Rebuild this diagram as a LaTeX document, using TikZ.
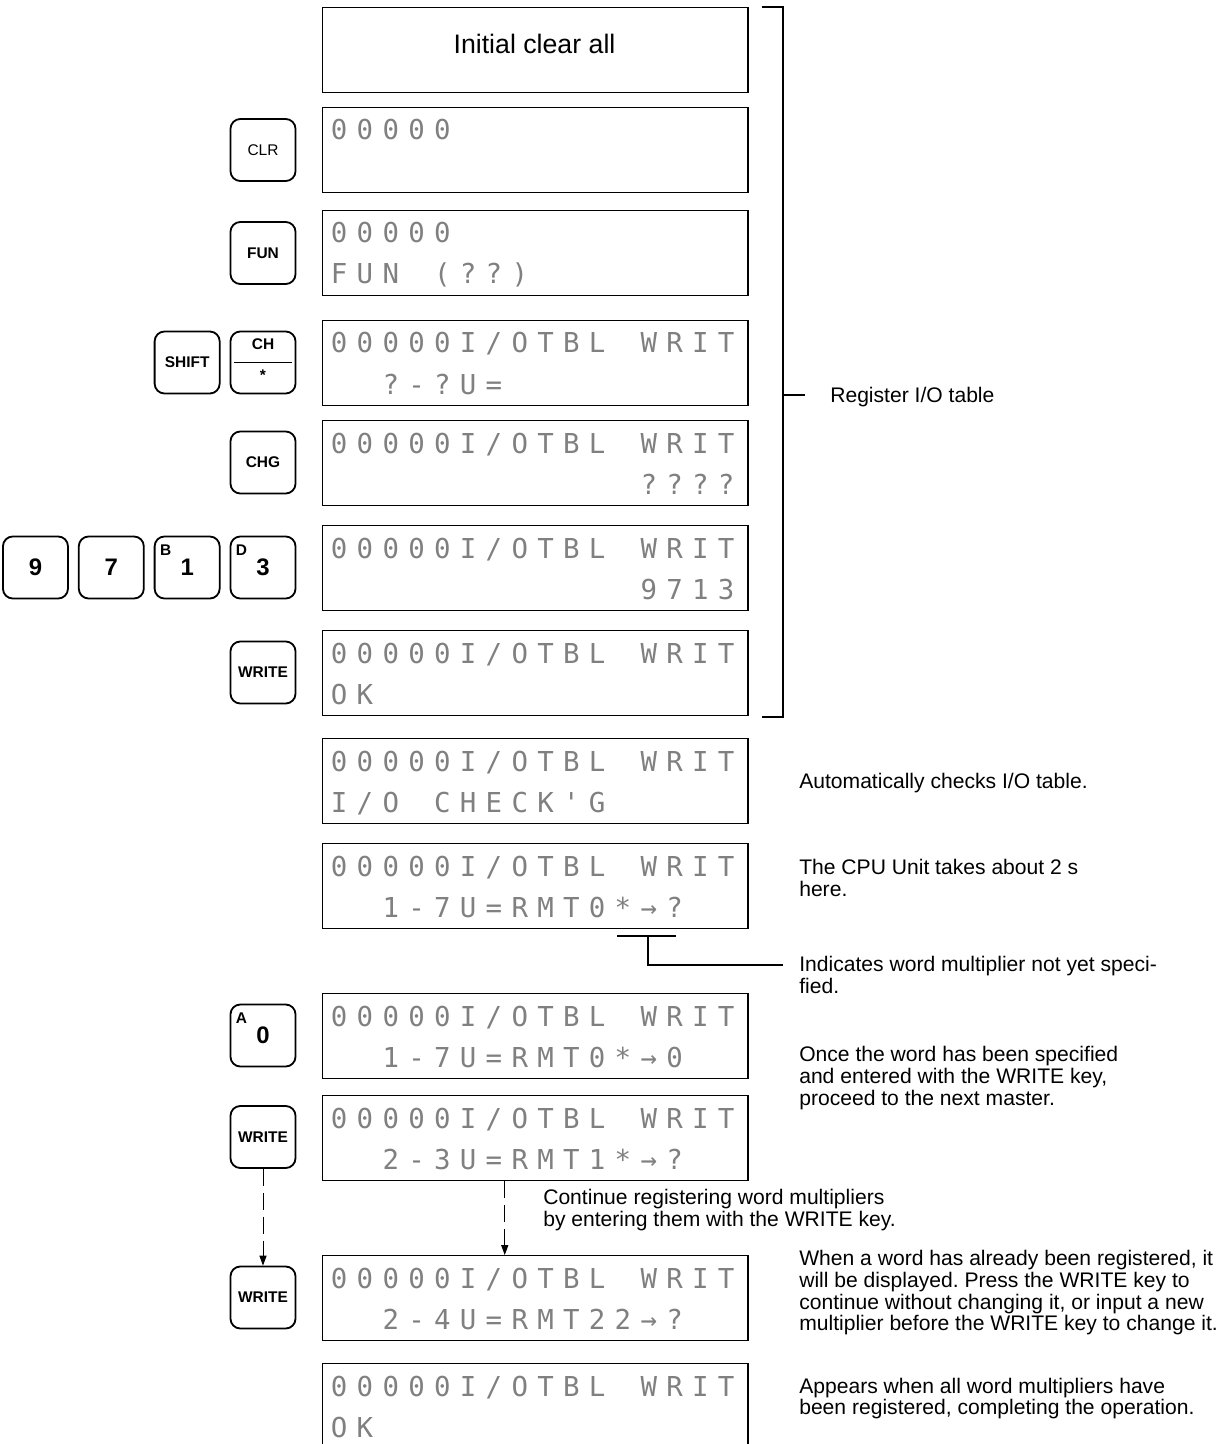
\documentclass[tikz,border=0pt]{standalone}
\usepackage{fontspec}
\setmainfont{Liberation Sans}
\newfontfamily\lcdfont{DejaVu Sans Mono}
\usepackage{tikz}
\usetikzlibrary{arrows.meta, positioning}
\definecolor{lcdgray}{gray}{0.5}
\frenchspacing

% one character cell of the display, '_' stands for a blank cell
\newlength\lcdpitch
\setlength\lcdpitch{18.35pt}
\def\lcdput#1{\ifx#1_\hspace*{\lcdpitch}\else\makebox[\lcdpitch][c]{#1}\fi}
\def\lcdloop#1{\ifx#1\relax\else\lcdput{#1}\expandafter\lcdloop\fi}
\newcommand\lcdrow[1]{\lcdloop#1\relax}

\begin{document}
\begin{tikzpicture}[x=0.025cm, y=-0.025cm,
  lcdbox/.style={draw, line width=1pt, minimum width=10.625cm, minimum height=2.125cm, inner sep=0pt, anchor=north west},
  lcdtxt/.style={anchor=base west, inner sep=0pt, text=lcdgray, font=\lcdfont\fontsize{19.5}{20}\selectfont},
  keycap/.style={draw, line width=1.3pt, rounded corners=7pt, minimum width=1.625cm, minimum height=1.55cm, inner sep=0pt, font=\fontsize{11}{12}\selectfont\bfseries},
  keydigit/.style={inner sep=0pt, font=\fontsize{17}{18}\selectfont\bfseries},
  keyletter/.style={inner sep=0pt, font=\fontsize{11}{12}\selectfont\bfseries},
  note/.style={anchor=base west, inner sep=0pt, align=left, font=\fontsize{15}{15.3}\selectfont},
  dasharrow/.style={line width=0.7pt, dash pattern=on 12pt off 5pt, -{Triangle[length=7pt, width=5pt]}}]

  \useasboundingbox (0,0) rectangle (1228,1444);

  % display frames
  \node[lcdbox] (d1) at (322,7) {};
  \node[font=\fontsize{19}{20}\selectfont] (init) at (534.5,44) {Initial clear all};
  \foreach \i/\t in {2/107, 3/210, 4/320, 5/420, 6/525, 7/630, 8/738, 9/843, 10/993, 11/1095, 12/1255, 13/1363}
    \node[lcdbox] (d\i) at (322,\t) {};

  % first display line
  \foreach \i/\t in {2/107, 3/210}
    \node[lcdtxt] (a\i) at (326,\t+33) {\lcdrow{00000}};
  \foreach \i/\t in {4/320, 5/420, 6/525, 7/630, 8/738, 9/843, 10/993, 11/1095, 12/1255, 13/1363}
    \node[lcdtxt] (a\i) at (326,\t+33) {\lcdrow{00000I/OTBL_WRIT}};

  % second display line
  \node[lcdtxt] (b3) at (326,210+74) {\lcdrow{FUN_(??)}};
  \node[lcdtxt] (b4) at (326,320+74) {\lcdrow{__?-?U=}};
  \node[lcdtxt] (b5) at (326,420+74) {\lcdrow{____________????}};
  \node[lcdtxt] (b6) at (326,525+74) {\lcdrow{____________9713}};
  \node[lcdtxt] (b7) at (326,630+74) {\lcdrow{OK}};
  \node[lcdtxt] (b8) at (326,738+74) {\lcdrow{I/O_CHECK'G}};
  \node[lcdtxt] (b9) at (326,843+74) {\lcdrow{__1-7U=RMT0*→?}};
  \node[lcdtxt] (b10) at (326,993+74) {\lcdrow{__1-7U=RMT0*→0}};
  \node[lcdtxt] (b11) at (326,1095+74) {\lcdrow{__2-3U=RMT1*→?}};
  \node[lcdtxt] (b12) at (326,1255+74) {\lcdrow{__2-4U=RMT22→?}};
  \node[lcdtxt] (b13) at (326,1363+74) {\lcdrow{OK}};

  % keys
  \node[keycap, font=\fontsize{11}{12}\selectfont] (kclr) at (263,150) {CLR};
  \node[keycap] (kfun) at (263,253) {FUN};
  \node[keycap] (kch) at (263,362.5) {};
  \node[keycap, left=0.225cm of kch] (kshift) {SHIFT};
  \node[keyletter] (lch) at ([yshift=-0.35cm]kch.north) {CH};
  \draw[line width=1.1pt] ([xshift=0.1cm]kch.west) -- ([xshift=-0.1cm]kch.east);
  \node[keyletter, anchor=north] (lstar) at ([yshift=-0.175cm]kch.center) {*};
  \node[keycap] (kchg) at (263,462.5) {CHG};

  \node[keycap] (k3) at (263,567.5) {};
  \node[keycap, left=0.225cm of k3] (k1) {};
  \node[keycap, left=0.225cm of k1] (k7) {};
  \node[keycap, left=0.225cm of k7] (k9) {};
  \node[keydigit] (l9) at (k9.center) {9};
  \node[keydigit] (l7) at (k7.center) {7};
  \node[keydigit] (l1) at (k1.center) {1};
  \node[keydigit] (l3) at (k3.center) {3};
  \node[keyletter] (lb) at ([xshift=0.3cm, yshift=-0.375cm]k1.north west) {B};
  \node[keyletter] (ld) at ([xshift=0.3cm, yshift=-0.375cm]k3.north west) {D};

  \node[keycap] (kwrite) at (263,672.5) {WRITE};
  \node[keycap] (ka) at (263,1035.5) {};
  \node[keydigit] (l0) at (ka.center) {0};
  \node[keyletter] (la) at ([xshift=0.3cm, yshift=-0.375cm]ka.north west) {A};
  \node[keycap] (kwriteb) at (263,1137) {WRITE};
  \node[keycap] (kwritec) at (263,1297.5) {WRITE};

  \draw[dasharrow] (kwriteb.south) -- (kwritec.north);
  \draw[dasharrow] ([xshift=-0.7625cm]d11.south) -- ([xshift=-0.7625cm]d12.north);

  % bracket over the registering steps
  \coordinate (brt) at (762,7);
  \coordinate (brb) at (762,717);
  \draw[line width=0.8pt] (brt) -- (783,7) -- (783,717) -- (brb);
  \draw[line width=0.8pt] (783,395) -- (805,395);
  \node[note] (reg) at (830,402) {Register I/O table};

  % pointer to the unset multiplier
  \coordinate (pmid) at (648,936);
  \draw[line width=0.8pt] (617,936) -- (676,936);
  \draw[line width=0.8pt] (pmid) |- (783,965);

  % notes (base = last line)
  \node[note] (n1) at (799,788) {Automatically checks I/O table.};
  \node[note] (n2) at (799,896.5) {The CPU Unit takes about 2 s\\here.};
  \node[note] (n3) at (799,993.5) {Indicates word multiplier not yet speci-\\fied.};
  \node[note] (n4) at (799,1105) {Once the word has been specified\\and entered with the WRITE key,\\proceed to the next master.};
  \node[note] (n5) at (543,1226.5) {Continue registering word multipliers\\by entering them with the WRITE key.};
  \node[note] (n6) at (799,1330.5) {When a word has already been registered, it\\will be displayed. Press the WRITE key to\\continue without changing it, or input a new\\multiplier before the WRITE key to change it.};
  \node[note] (n7) at (799,1414.5) {Appears when all word multipliers have\\been registered, completing the operation.};

\end{tikzpicture}
\end{document}
